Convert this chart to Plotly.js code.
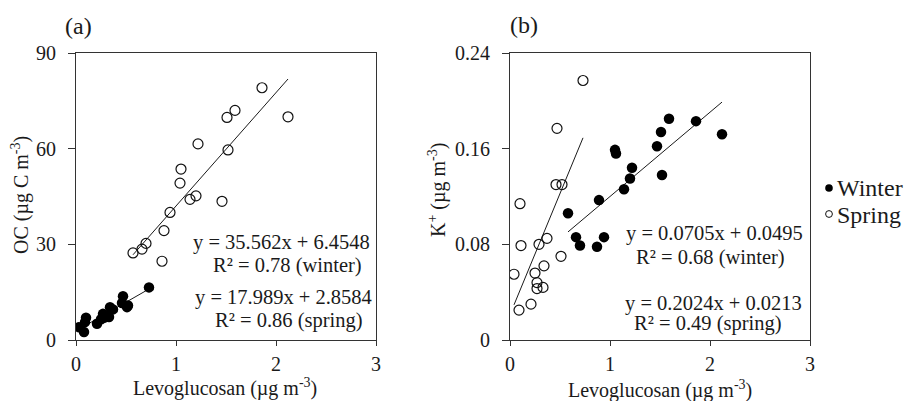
<!DOCTYPE html>
<html>
<head>
<meta charset="utf-8">
<script src="https://cdn.plot.ly/plotly-3.0.1.min.js"></script>
<style>html,body{margin:0;padding:0;background:#fff;}#chart{width:909px;height:401px;}</style>
</head>
<body>
<div id="chart"></div>
<script>
// ---------- Data ----------
// Panel (a): OC vs Levoglucosan
const aFilledX = [0.03, 0.08, 0.09, 0.10, 0.21, 0.25, 0.27, 0.28, 0.30, 0.33, 0.34, 0.37, 0.46, 0.47, 0.51, 0.52, 0.73];
const aFilledY = [4.0, 2.5, 5.6, 7.0, 5.1, 6.5, 8.2, 7.0, 7.6, 7.2, 10.3, 9.6, 11.6, 13.7, 10.3, 10.8, 16.5];
const aOpenX = [0.57, 0.66, 0.70, 0.86, 0.88, 0.94, 1.04, 1.05, 1.14, 1.20, 1.22, 1.46, 1.51, 1.52, 1.59, 1.86, 2.12];
const aOpenY = [27.3, 28.5, 30.3, 24.7, 34.3, 40.0, 49.2, 53.6, 44.1, 45.2, 61.5, 43.5, 69.8, 59.6, 72.0, 79.1, 70.0];
// Panel (b): K+ vs Levoglucosan
const bFilledX = [0.58, 0.66, 0.70, 0.87, 0.89, 0.94, 1.05, 1.06, 1.14, 1.20, 1.22, 1.47, 1.51, 1.52, 1.59, 1.86, 2.12];
const bFilledY = [0.106, 0.086, 0.079, 0.078, 0.117, 0.086, 0.159, 0.156, 0.126, 0.135, 0.144, 0.162, 0.174, 0.138, 0.185, 0.183, 0.172];
const bOpenX = [0.04, 0.09, 0.10, 0.11, 0.21, 0.25, 0.27, 0.27, 0.29, 0.33, 0.34, 0.37, 0.46, 0.47, 0.51, 0.52, 0.73];
const bOpenY = [0.055, 0.025, 0.114, 0.079, 0.030, 0.056, 0.048, 0.043, 0.080, 0.044, 0.062, 0.085, 0.130, 0.177, 0.070, 0.130, 0.217];
// Regression coefficients [slope, intercept]
const aOpenFit = [35.562, 6.4548];
const aFilledFit = [17.989, 2.8584];
const bFilledFit = [0.0705, 0.0495];
const bOpenFit = [0.2024, 0.0213];
// Text
const aEq = ["y = 35.562x + 6.4548", "R² = 0.78 (winter)", "y = 17.989x + 2.8584", "R² = 0.86 (spring)"];
const bEq = ["y = 0.0705x + 0.0495", "R² = 0.68 (winter)", "y = 0.2024x + 0.0213", "R² = 0.49 (spring)"];
const xTicks = [0, 1, 2, 3];
const aYTicks = [0, 30, 60, 90];
const bYTicks = [0, 0.08, 0.16, 0.24];
const legendNames = ["Winter", "Spring"];

// ---------- helpers ----------
const W = 909, H = 401;
const px = v => v / W;
const py = v => 1 - v / H;
const FONT = "Liberation Serif";
const INK = "#1a1a1a";

function fitLine(xs, fit, xa, ya) {
  const x0 = Math.min(...xs), x1 = Math.max(...xs);
  return {x: [x0, x1], y: [fit[0] * x0 + fit[1], fit[0] * x1 + fit[1]], xaxis: xa, yaxis: ya,
    mode: "lines", line: {color: INK, width: 1}, showlegend: false, hoverinfo: "skip"};
}
function filled(x, y, xa, ya) {
  return {x, y, xaxis: xa, yaxis: ya, mode: "markers", showlegend: false,
    marker: {symbol: "circle", size: 10.5, color: "#000", line: {width: 0}}};
}
function open(x, y, xa, ya) {
  return {x, y, xaxis: xa, yaxis: ya, mode: "markers", showlegend: false,
    marker: {symbol: "circle-open", size: 10, color: "#111", line: {width: 1.2, color: "#111"}}};
}

const traces = [
  fitLine(aOpenX, aOpenFit, "x", "y"),
  fitLine(aFilledX, aFilledFit, "x", "y"),
  open(aOpenX, aOpenY, "x", "y"),
  filled(aFilledX, aFilledY, "x", "y"),
  fitLine(bFilledX, bFilledFit, "x2", "y2"),
  fitLine(bOpenX, bOpenFit, "x2", "y2"),
  open(bOpenX, bOpenY, "x2", "y2"),
  filled(bFilledX, bFilledY, "x2", "y2")
];

const tickFont = {family: FONT, size: 20, color: INK};
function xAxis(domain, anchor) {
  return {domain, anchor, range: [0, 3], tickvals: xTicks, ticks: "outside", ticklen: 5, tickcolor: "#333",
    showline: true, linecolor: "#333", linewidth: 1, mirror: true, showgrid: false, zeroline: false,
    tickfont: tickFont, ticklabelstandoff: 1, fixedrange: true};
}
function yAxis(domain, anchor, ticks, range) {
  return {domain, anchor, range, tickvals: ticks, ticks: "outside", ticklen: 7, tickcolor: "#333",
    showline: true, linecolor: "#333", linewidth: 1, mirror: true, showgrid: false, zeroline: false,
    tickfont: tickFont, ticklabelstandoff: 8, fixedrange: true};
}

const yDom = [py(340), py(53)];
const layout = {
  width: W, height: H, margin: {l: 0, r: 0, t: 0, b: 0}, paper_bgcolor: "#fff", plot_bgcolor: "#fff",
  showlegend: false,
  xaxis: xAxis([px(76), px(376)], "y"),
  yaxis: yAxis(yDom, "x", aYTicks, [0, 90]),
  xaxis2: xAxis([px(510), px(810)], "y2"),
  yaxis2: yAxis(yDom, "x2", bYTicks, [0, 0.24]),
  annotations: [],
  shapes: []
};
const ann = (text, x, y, extra) => Object.assign({text, x: px(x), y: py(y), xref: "paper", yref: "paper",
  showarrow: false, xanchor: "center", yanchor: "middle", font: {family: FONT, size: 20, color: INK}}, extra || {});

layout.annotations.push(ann("(a)", 78, 26, {font: {family: FONT, size: 24, color: INK}}));
layout.annotations.push(ann("(b)", 524, 25, {font: {family: FONT, size: 24, color: INK}}));
layout.annotations.push(ann("Levoglucosan (µg m<sup>-3</sup>)", 225, 387));
layout.annotations.push(ann("Levoglucosan (µg m<sup>-3</sup>)", 660, 389));
layout.annotations.push(ann("OC (µg C m<sup>-3</sup>)", 20, 195, {textangle: -90}));
layout.annotations.push(ann("K<sup>+</sup> (µg m<sup>-3</sup>)", 437, 190, {textangle: -90}));

const eqFont = {family: FONT, size: 20.5, color: INK};
const aPos = [[281, 242], [287, 265], [283, 297], [289, 320]];
const bPos = [[714, 233], [710, 257], [713, 303], [708, 323]];
aEq.forEach((t, i) => layout.annotations.push(ann(t, aPos[i][0], aPos[i][1], {font: eqFont})));
bEq.forEach((t, i) => layout.annotations.push(ann(t, bPos[i][0], bPos[i][1], {font: eqFont})));

// Custom legend
const legFont = {family: FONT, size: 24, color: INK};
layout.annotations.push(ann(legendNames[0], 835, 188, {xanchor: "left", font: legFont}));
layout.annotations.push(ann(legendNames[1], 835, 215, {xanchor: "left", font: legFont}));
layout.shapes.push({type: "circle", xref: "paper", yref: "paper", xsizemode: "pixel", ysizemode: "pixel",
  xanchor: px(829), yanchor: py(188), x0: -3.8, x1: 3.8, y0: -3.8, y1: 3.8, fillcolor: "#000", line: {width: 0}});
layout.shapes.push({type: "circle", xref: "paper", yref: "paper", xsizemode: "pixel", ysizemode: "pixel",
  xanchor: px(829), yanchor: py(214), x0: -3.4, x1: 3.4, y0: -3.4, y1: 3.4, fillcolor: "rgba(0,0,0,0)", line: {width: 1, color: "#111"}});

Plotly.newPlot("chart", traces, layout, {displayModeBar: false, staticPlot: true});
</script>
</body>
</html>
